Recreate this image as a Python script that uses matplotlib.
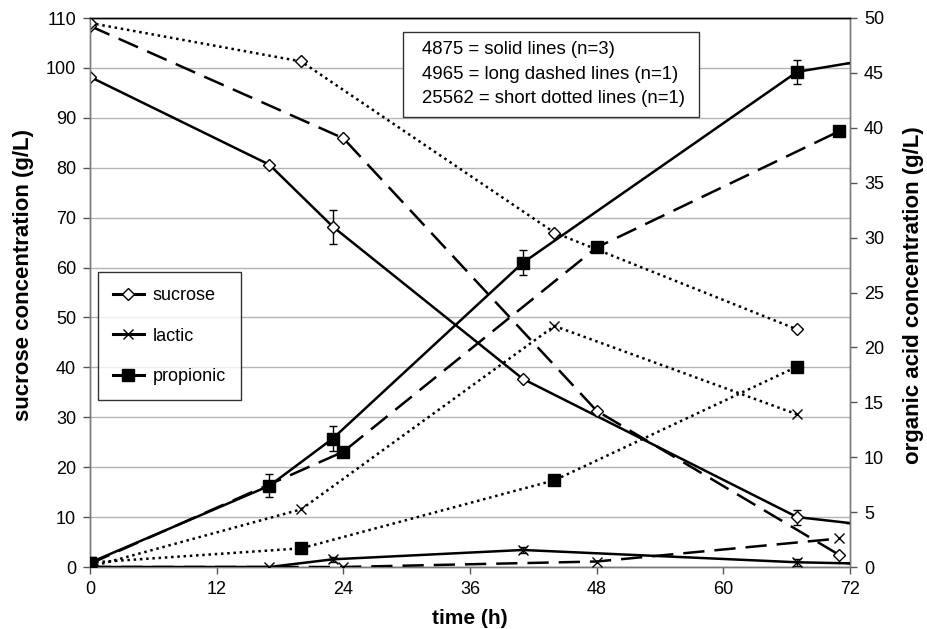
import matplotlib
matplotlib.use("Agg")
import matplotlib.pyplot as plt
from matplotlib.lines import Line2D
from matplotlib.patches import Rectangle
import numpy as np

plt.rcParams['font.family'] = ['Liberation Sans', 'DejaVu Sans']

# ---------------- data ----------------
# strain 4875 (solid lines, n=3); last point is where the line meets the x-limit (no marker)
t_4875 = [0, 17, 23, 41, 67, 72]
suc_4875 = [98.2, 80.6, 68.2, 37.7, 10.0, 8.8]
suc_4875_err = [0, 0, 3.4, 0, 1.5, 0]
lac_4875 = [0, 0, 0.7, 1.55, 0.43, 0.33]
lac_4875_err = [0, 0, 0.2, 0.3, 0.3, 0]
pro_4875 = [0.4, 7.4, 11.7, 27.7, 45.1, 45.9]
pro_4875_err = [0, 1.05, 1.1, 1.15, 1.1, 0]

# strain 4965 (long dashed lines, n=1)
t_4965 = [0, 24, 48, 71]
suc_4965 = [108.4, 85.9, 31.3, 2.4]
lac_4965 = [0, 0, 0.5, 2.6]
pro_4965 = [0.3, 10.5, 29.1, 39.7]

# strain 25562 (short dotted lines, n=1)
t_25562 = [0, 20, 44, 67]
suc_25562 = [109.0, 101.3, 67.0, 47.6]
lac_25562 = [0, 5.25, 21.95, 13.9]
pro_25562 = [0.4, 1.7, 7.9, 18.25]

x_ticks = [0, 12, 24, 36, 48, 60, 72]
left_ticks = list(range(0, 111, 10))
right_ticks = list(range(0, 51, 5))
legend_labels = ['sucrose', 'lactic', 'propionic']
note_lines = ['4875 = solid lines (n=3)',
              '4965 = long dashed lines (n=1)',
              '25562 = short dotted lines (n=1)']

# ---------------- styles ----------------
LW = 1.8
SOLID = '-'
DASH = (0, (8.5, 4))
DOT = (0, (1, 1.5))
suc_m = dict(marker='D', ms=6.3, mfc='white', mec='black', mew=1.0)
lac_m = dict(marker='x', ms=7.5, mfc='none', mec='black', mew=1.0)
pro_m = dict(marker='s', ms=8.5, mfc='black', mec='black', mew=1.0)

fig = plt.figure(figsize=(9.28, 6.29), dpi=100)
ax = fig.add_axes([90/928, 1-567/629, 760/928, 549/629])
ax2 = ax.twinx()

ax.set_xlim(0, 72)
ax.set_ylim(0, 110)
ax2.set_ylim(0, 50)
ax.set_xticks(x_ticks)
ax.set_yticks(left_ticks)
ax2.set_yticks(right_ticks)

ax.yaxis.grid(True, color='#b4b4b4', lw=1.0)
ax.set_axisbelow(True)

for a in (ax, ax2):
    for s in a.spines.values():
        s.set_color('#7a7a7a')
        s.set_linewidth(1.0)
    a.spines['top'].set_color('black')
    a.tick_params(axis='both', which='major', labelsize=13, length=5,
                  width=1, color='#555555', pad=5, direction='out')

ax.set_xlabel('time (h)', fontsize=15, fontweight='bold', labelpad=8)
ax.set_ylabel('sucrose concentration (g/L)', fontsize=16, fontweight='bold')
ax2.set_ylabel('organic acid concentration (g/L)', fontsize=16, fontweight='bold')
for lab in (ax.yaxis.label, ax2.yaxis.label):
    lab.set_verticalalignment('center')
    lab.set_horizontalalignment('center')
ax.yaxis.set_label_coords((23.5-90)/760, (567-275)/549)
ax2.yaxis.set_label_coords((913-90)/760, (567-295)/549)

me = slice(0, 5)

# sucrose on left axis
ax.errorbar(t_4875, suc_4875, yerr=suc_4875_err, fmt='none', ecolor='black',
            elinewidth=1, capsize=3, capthick=1, zorder=2)
ax.plot(t_4875, suc_4875, color='black', lw=LW, ls=SOLID, markevery=me, zorder=3, **suc_m)
ax.plot(t_4965, suc_4965, color='black', lw=LW, ls=DASH, zorder=3, **suc_m)
ax.plot(t_25562, suc_25562, color='black', lw=LW, ls=DOT, zorder=3, **suc_m)

# organic acids on right axis
ax2.errorbar(t_4875, pro_4875, yerr=pro_4875_err, fmt='none', ecolor='black',
             elinewidth=1, capsize=3, capthick=1, zorder=2)
ax2.errorbar(t_4875, lac_4875, yerr=lac_4875_err, fmt='none', ecolor='black',
             elinewidth=1, capsize=3, capthick=1, zorder=2)
ax2.plot(t_4875, lac_4875, color='black', lw=LW, ls=SOLID, markevery=me, zorder=3, **lac_m)
ax2.plot(t_4965, lac_4965, color='black', lw=LW, ls=DASH, zorder=3, **lac_m)
ax2.plot(t_25562, lac_25562, color='black', lw=LW, ls=DOT, zorder=3, **lac_m)
ax2.plot(t_4875, pro_4875, color='black', lw=LW, ls=SOLID, markevery=me, zorder=3, **pro_m)
ax2.plot(t_4965, pro_4965, color='black', lw=LW, ls=DASH, zorder=3, **pro_m)
ax2.plot(t_25562, pro_25562, color='black', lw=LW, ls=DOT, zorder=3, **pro_m)

# marker legend
handles = [Line2D([], [], color='black', lw=2.2, **suc_m),
           Line2D([], [], color='black', lw=2.2, **lac_m),
           Line2D([], [], color='black', lw=2.2, **pro_m)]
leg = ax2.legend(handles, legend_labels, loc='upper left',
                 bbox_to_anchor=((97.7-90)/760, (567-271.7)/549),
                 fontsize=13, frameon=True, fancybox=False, edgecolor='black',
                 handlelength=1.7, labelspacing=1.3, borderpad=0.85,
                 handletextpad=0.5, borderaxespad=0)
leg.get_frame().set_linewidth(1.0)
leg.set_zorder(10)

# strain note box
x0, x1 = (403-90)/760, (699-90)/760
y0, y1 = (567-117)/549, (567-32)/549
ax2.add_patch(Rectangle((x0, y0), x1-x0, y1-y0, transform=ax2.transAxes,
                        facecolor='white', edgecolor='#333333', lw=1.0, zorder=9))
for i, line in enumerate(note_lines):
    ax2.text((421.7-90)/760, (567-(50+24.2*i))/549, line, transform=ax2.transAxes,
             fontsize=13.4, va='center', ha='left', zorder=11)

fig.savefig('out.png', dpi=100)
